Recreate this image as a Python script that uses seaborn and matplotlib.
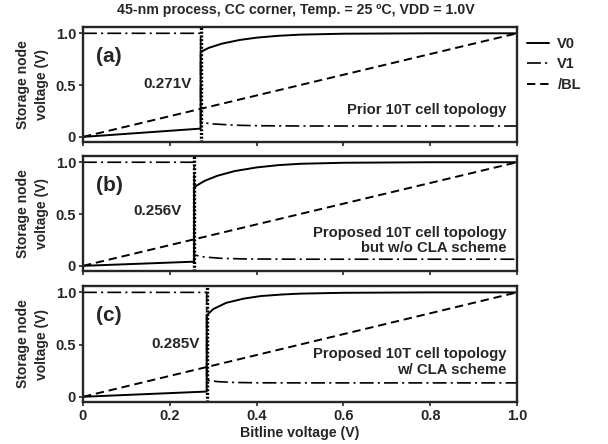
import matplotlib
matplotlib.use("Agg")
import matplotlib.pyplot as plt
from matplotlib.lines import Line2D
import seaborn as sns
import pandas as pd

# Switching bitline voltages for the three cell topologies
panel_tags = ["(a)", "(b)", "(c)"]
switch_v = [0.271, 0.256, 0.285]
topology = ["Prior 10T cell topology",
            "Proposed 10T cell topology\nbut w/o CLA scheme",
            "Proposed 10T cell topology\nw/ CLA scheme"]

# /BL sweep
bl_x = [0.0, 1.0]
bl_y = [0.0, 1.0]

# V0 storage node (bitline voltage, node voltage)
v0_x_a = [0.0, 0.271, 0.271, 0.29, 0.32, 0.36, 0.40, 0.45, 0.50, 0.60, 0.80, 1.0]
v0_y_a = [0.0, 0.08, 0.82, 0.86, 0.90, 0.935, 0.958, 0.976, 0.987, 0.996, 1.0, 1.0]
v0_x_b = [0.0, 0.256, 0.256, 0.28, 0.31, 0.35, 0.40, 0.45, 0.50, 0.60, 0.80, 1.0]
v0_y_b = [0.0, 0.04, 0.76, 0.82, 0.87, 0.915, 0.95, 0.972, 0.985, 0.995, 1.0, 1.0]
v0_x_c = [0.0, 0.285, 0.285, 0.30, 0.33, 0.37, 0.41, 0.46, 0.50, 0.60, 0.80, 1.0]
v0_y_c = [0.0, 0.05, 0.78, 0.84, 0.90, 0.94, 0.965, 0.98, 0.988, 0.996, 1.0, 1.0]

# V1 storage node
v1_x_a = [0.0, 0.271, 0.271, 0.30, 0.35, 0.40, 0.50, 1.0]
v1_y_a = [1.0, 1.0, 0.14, 0.125, 0.113, 0.108, 0.105, 0.105]
v1_x_b = [0.0, 0.256, 0.256, 0.28, 0.32, 0.38, 0.50, 1.0]
v1_y_b = [1.0, 1.0, 0.105, 0.085, 0.072, 0.066, 0.064, 0.064]
v1_x_c = [0.0, 0.285, 0.285, 0.31, 0.35, 0.40, 0.50, 1.0]
v1_y_c = [1.0, 1.0, 0.16, 0.145, 0.137, 0.134, 0.133, 0.133]

v0_sets = [(v0_x_a, v0_y_a), (v0_x_b, v0_y_b), (v0_x_c, v0_y_c)]
v1_sets = [(v1_x_a, v1_y_a), (v1_x_b, v1_y_b), (v1_x_c, v1_y_c)]

x_ticks = [0, 0.2, 0.4, 0.6, 0.8, 1.0]
x_tick_labels = ["0", "0.2", "0.4", "0.6", "0.8", "1.0"]
y_ticks = [0, 0.5, 1.0]
y_tick_labels = ["0", "0.5", "1.0"]

sns.set_style("ticks")
plt.rcParams["font.family"] = ["Liberation Sans", "DejaVu Sans"]
plt.rcParams["font.weight"] = "bold"
plt.rcParams["lines.scale_dashes"] = False

DASH_DOT = (0, (10, 3, 1.5, 3))
DASHED = (0, (6, 3.5))
DOTTED = (0, (1.5, 1.2))

fig = plt.figure(figsize=(6.08, 4.44), dpi=100)
boxes = [[0.1365, 0.680, 0.714, 0.259],
         [0.1365, 0.3896, 0.714, 0.259],
         [0.1365, 0.0946, 0.714, 0.261]]
label_pos = [(0.25, 0.51), (0.227, 0.53), (0.27, 0.51)]
topo_y = [0.26, 0.245, 0.335]

for i, box in enumerate(boxes):
    ax = fig.add_axes(box)
    v0 = pd.DataFrame({"x": v0_sets[i][0], "y": v0_sets[i][1]})
    v1 = pd.DataFrame({"x": v1_sets[i][0], "y": v1_sets[i][1]})
    bl = pd.DataFrame({"x": bl_x, "y": bl_y})
    sns.lineplot(data=bl, x="x", y="y", ax=ax, color="black", lw=1.4,
                 linestyle=DASHED, estimator=None, sort=False)
    sns.lineplot(data=v1, x="x", y="y", ax=ax, color="black", lw=1.2,
                 linestyle=DASH_DOT, estimator=None, sort=False)
    sns.lineplot(data=v0, x="x", y="y", ax=ax, color="black", lw=1.4,
                 estimator=None, sort=False)
    ax.axvline(switch_v[i], color="black", lw=2.4, linestyle=DOTTED)

    ax.set_xlim(0, 1.0)
    ax.set_ylim(-0.05, 1.06)
    ax.set_yticks(y_ticks)
    ax.set_yticklabels(y_tick_labels, fontsize=10.5, fontweight="bold")
    ax.set_xticks(x_ticks)
    if i == 2:
        ax.set_xticklabels(x_tick_labels, fontsize=10.5, fontweight="bold")
        ax.set_xlabel("Bitline voltage (V)", fontsize=10.2, fontweight="bold",
                      labelpad=2)
    else:
        ax.set_xticklabels([])
        ax.set_xlabel("")
    ax.set_ylabel("Storage node\nvoltage (V)", fontsize=10, fontweight="bold",
                  labelpad=5, linespacing=1.4)
    ax.tick_params(length=3, width=1.2, pad=2)
    for s in ax.spines.values():
        s.set_linewidth(1.7)
        s.set_visible(True)

    ax.text(0.03, 0.78, panel_tags[i], fontsize=15, fontweight="bold",
            ha="left", va="center")
    lx, ly = label_pos[i]
    ax.text(lx, ly, f"{switch_v[i]:.3f}V", fontsize=11, fontweight="bold",
            ha="right", va="center")
    ax.text(0.975, topo_y[i], topology[i], fontsize=10.7, fontweight="bold",
            ha="right", va="center", multialignment="right", linespacing=1.15)

fig.text(0.486, 0.977, "45-nm process, CC corner, Temp. = 25 \u00baC, VDD = 1.0V",
         fontsize=10.2, fontweight="bold", ha="center", va="center")

handles = [Line2D([], [], color="black", lw=1.4),
           Line2D([], [], color="black", lw=1.2, linestyle=DASH_DOT),
           Line2D([], [], color="black", lw=1.4, linestyle=DASHED)]
fig.legend(handles, ["V0", "V1", "/BL"], loc="upper left",
           bbox_to_anchor=(0.846, 0.947), frameon=False,
           handlelength=1.5, handletextpad=0.55, labelspacing=0.45,
           prop={"weight": "bold", "size": 10.5})

fig.savefig("out.png", dpi=100)
